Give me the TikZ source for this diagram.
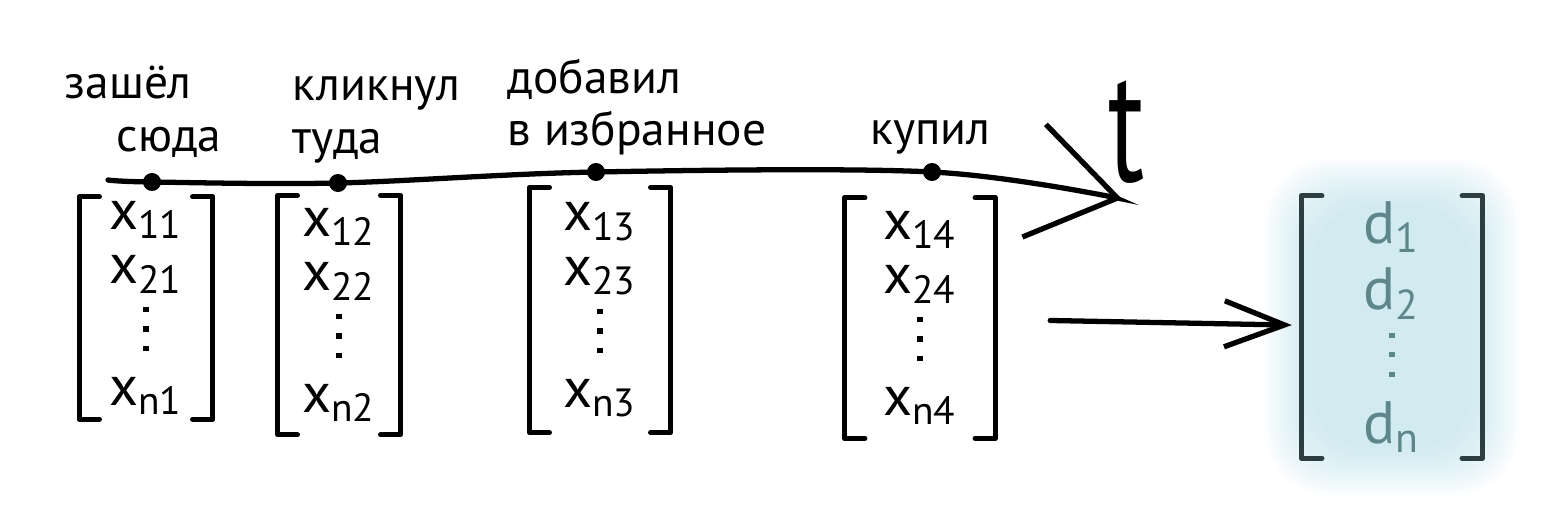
\documentclass[tikz,border=0pt]{standalone}
\usepackage{fontspec}
\setmainfont{PT Sans}
\usetikzlibrary{arrows.meta, backgrounds}

\definecolor{dtext}{HTML}{5E878C}
\definecolor{dbrk}{HTML}{2E3E40}
\definecolor{glow}{HTML}{B4DDE8}
\newcommand{\dotx}{\hbox to 0pt{\hss\rule{1.5pt}{1.5pt}\hss}}
\newcommand{\vdotsx}{\vbox{\baselineskip5.5pt\lineskiplimit0pt\kern3pt\dotx\dotx\dotx}}

\begin{document}
\begin{tikzpicture}[x=0.01cm, y=-0.01cm, line width=1.5pt]

		\tikzstyle{evt}=[circle, fill=black, inner sep=0pt, minimum size=1.8mm]
		\tikzstyle{lbl}=[inner sep=0pt, align=left, anchor=south west, font=\fontsize{13.5}{15}\selectfont]
		\tikzstyle{vec}=[rectangle, inner sep=0pt, align=center, font=\fontsize{16}{15.5}\selectfont]
		\tikzstyle{brk}=[line width=1.5pt, line join=round, line cap=round]
		\tikzstyle{arr}=[-{Straight Barb[length=6mm, width=4.6mm]}, line cap=round]

		\useasboundingbox (0,0) rectangle (1560,506);

		% events on the time axis
		\coordinate (t0) at (108,180);
		\node[evt] (e1) at (152,182) {};
		\node[evt] (e2) at (338,183) {};
		\node[evt] (e3) at (596,172) {};
		\node[evt] (e4) at (932,172) {};
		\coordinate (tend) at (1122,199);

		\draw[-{Straight Barb[length=8.5mm, width=11.5mm]}, line cap=round]
			plot[smooth, tension=0.55] coordinates {(t0) (e1) (e2) (e3) (e4) (tend)};

		\node[lbl] (l1) at (62,160)  {зашёл\\\hspace*{1.1em}сюда};
		\node[lbl] (l2) at (290,166) {кликнул\\туда};
		\node[lbl] (l3) at (505,158) {добавил\\в избранное};
		\node[lbl] (l4) at (868,157) {купил};
		\node[inner sep=0pt, anchor=south west, font=\fontsize{46}{46}\selectfont] (t) at (1106,186) {\scalebox{0.66}[1]{t}};

		% feature vectors
		\node[vec, minimum width=1.28cm, minimum height=2.17cm] (c1) at (146,308)
			{x\textsubscript{11}\\x\textsubscript{21}\\\vdotsx\\x\textsubscript{n1}};
		\node[vec, minimum width=1.18cm, minimum height=2.34cm] (c2) at (339,315)
			{x\textsubscript{12}\\x\textsubscript{22}\\\vdotsx\\x\textsubscript{n2}};
		\node[vec, minimum width=1.36cm, minimum height=2.40cm] (c3) at (600,310)
			{x\textsubscript{13}\\x\textsubscript{23}\\\vdotsx\\x\textsubscript{n3}};
		\node[vec, minimum width=1.45cm, minimum height=2.35cm] (c4) at (920,318)
			{x\textsubscript{14}\\x\textsubscript{24}\\\vdotsx\\x\textsubscript{n4}};

		% target vector
		\node[vec, text=dtext, font=\fontsize{17}{19}\selectfont, minimum width=1.75cm, minimum height=2.57cm] (d) at (1392,327)
			{d\textsubscript{1}\\d\textsubscript{2}\\\vdotsx\\d\textsubscript{n}};

		\foreach \c/\s in {c1/black, c2/black, c3/black, c4/black, d/dbrk} {
			\draw[brk, \s] ([xshift=2mm]\c.north west) -- (\c.north west) -- (\c.south west) -- ([xshift=2mm]\c.south west);
			\draw[brk, \s] ([xshift=-2mm]\c.north east) -- (\c.north east) -- (\c.south east) -- ([xshift=-2mm]\c.south east);
		}

		\draw[arr, shorten <=5.5mm, shorten >=1mm] (c4) -- (d);

		\begin{pgfonlayer}{background}
		\foreach \i in {-3,...,12}
			\fill[glow, fill opacity=0.055, rounded corners=6mm] ([shift={(-3*\i,-3*\i)}]d.north west) rectangle ([shift={(3*\i,3*\i)}]d.south east);
		\end{pgfonlayer}

\end{tikzpicture}
\end{document}
